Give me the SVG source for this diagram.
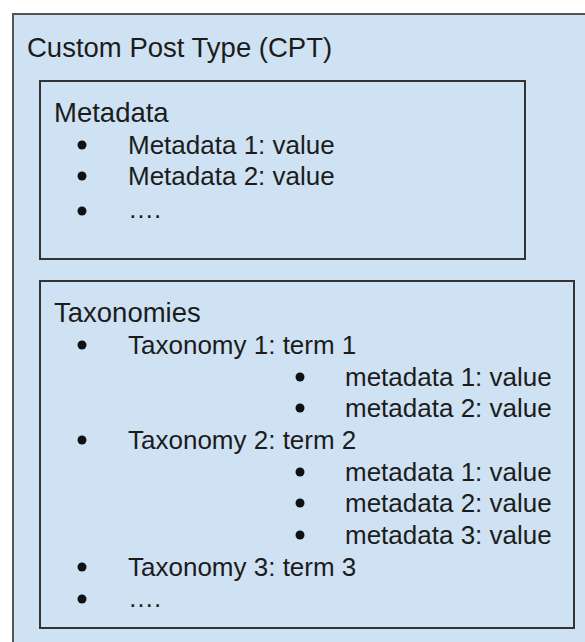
<svg xmlns="http://www.w3.org/2000/svg" width="585" height="642" viewBox="0 0 585 642">
  <style>
    .box { fill: #cfe2f3; stroke: #333333; stroke-width: 2; }
    .outer { fill: #cfe2f3; stroke: #555555; stroke-width: 2; }
    text { font-family: "Liberation Sans", Arial, sans-serif; font-size: 26px; fill: #1c1c1c; }
    .title { font-size: 27.5px; }
    .dot { fill: #111111; }
  </style>
  <rect width="585" height="642" fill="#ffffff"/>

  <!-- Custom Post Type container -->
  <g id="cpt">
    <rect class="outer" x="13" y="14" width="590" height="650"/>
    <text class="title" x="27" y="57">Custom Post Type (CPT)</text>
  </g>

  <!-- Metadata box -->
  <g id="metadata">
    <rect class="box" x="40" y="81" width="485" height="178"/>
    <text class="title" x="54" y="122">Metadata</text>
    <circle class="dot" cx="82" cy="145" r="4.5"/>
    <text x="128" y="154">Metadata 1: value</text>
    <circle class="dot" cx="82" cy="176" r="4.5"/>
    <text x="128" y="185">Metadata 2: value</text>
    <circle class="dot" cx="82" cy="211" r="4.5"/>
    <text x="128" y="218">….</text>
  </g>

  <!-- Taxonomies box -->
  <g id="taxonomies">
    <rect class="box" x="40" y="281" width="534" height="347"/>
    <text class="title" x="54" y="322">Taxonomies</text>
    <circle class="dot" cx="82" cy="345" r="4.5"/>
    <text x="128" y="354">Taxonomy 1: term 1</text>
    <circle class="dot" cx="300" cy="377" r="4.5"/>
    <text x="345" y="386">metadata 1: value</text>
    <circle class="dot" cx="300" cy="408" r="4.5"/>
    <text x="345" y="417">metadata 2: value</text>
    <circle class="dot" cx="82" cy="440" r="4.5"/>
    <text x="128" y="449">Taxonomy 2: term 2</text>
    <circle class="dot" cx="300" cy="472" r="4.5"/>
    <text x="345" y="481">metadata 1: value</text>
    <circle class="dot" cx="300" cy="503" r="4.5"/>
    <text x="345" y="512">metadata 2: value</text>
    <circle class="dot" cx="300" cy="535" r="4.5"/>
    <text x="345" y="544">metadata 3: value</text>
    <circle class="dot" cx="82" cy="567" r="4.5"/>
    <text x="128" y="576">Taxonomy 3: term 3</text>
    <circle class="dot" cx="82" cy="599" r="4.5"/>
    <text x="128" y="607">….</text>
  </g>

  <g id="connectors"/>
</svg>
